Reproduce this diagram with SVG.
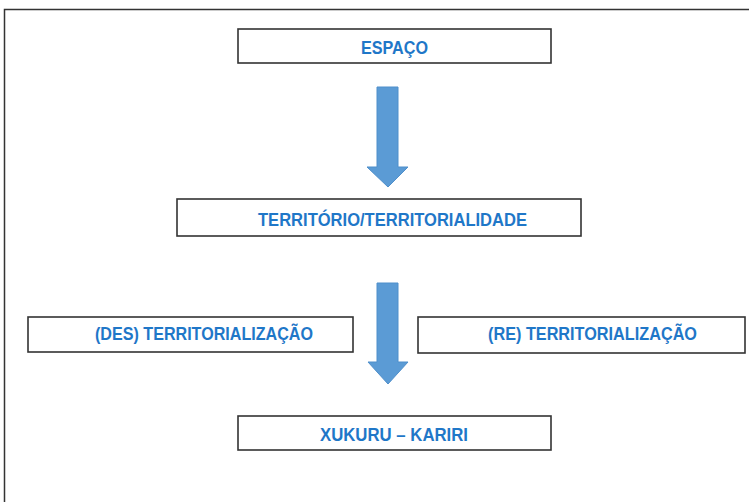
<svg xmlns="http://www.w3.org/2000/svg" width="749" height="502" viewBox="0 0 749 502">
<style>
.box{fill:#fff;stroke:#333;stroke-width:1.6}
.lbl{font-family:"Liberation Sans Narrow","Liberation Sans",Arial,sans-serif;font-weight:bold;font-size:18px;fill:#1f77c8}
.arrow{fill:#5b9bd5;stroke:#4f8fcb;stroke-width:1}
</style>
<rect x="0" y="0" width="749" height="502" fill="#fff"/>
<rect x="4.5" y="9.5" width="760" height="510" fill="none" stroke="#333" stroke-width="1.5"/>
<g id="connectors">
<path class="arrow" d="M377,87 H398 V167 H408 L388,187 L367,167 H377 Z"/>
<path class="arrow" d="M377,283 H398 V362 H408 L388,384 L368,362 H377 Z"/>
</g>
<g id="espaco">
<rect class="box" x="238" y="29" width="313" height="34"/>
<text class="lbl" x="361" y="53.5" textLength="67" lengthAdjust="spacingAndGlyphs">ESPAÇO</text>
</g>
<g id="territorio">
<rect class="box" x="177" y="199" width="404" height="37"/>
<text class="lbl" x="258" y="225.5" textLength="269" lengthAdjust="spacingAndGlyphs">TERRITÓRIO/TERRITORIALIDADE</text>
</g>
<g id="des">
<rect class="box" x="28" y="317" width="325" height="35"/>
<text class="lbl" x="95" y="339.5" textLength="218" lengthAdjust="spacingAndGlyphs">(DES) TERRITORIALIZAÇÃO</text>
</g>
<g id="re">
<rect class="box" x="418" y="317" width="327" height="36"/>
<text class="lbl" x="488" y="339.5" textLength="209" lengthAdjust="spacingAndGlyphs">(RE) TERRITORIALIZAÇÃO</text>
</g>
<g id="xukuru">
<rect class="box" x="238" y="416" width="313" height="34"/>
<text class="lbl" x="320" y="440.5" textLength="148" lengthAdjust="spacingAndGlyphs">XUKURU – KARIRI</text>
</g>
</svg>
